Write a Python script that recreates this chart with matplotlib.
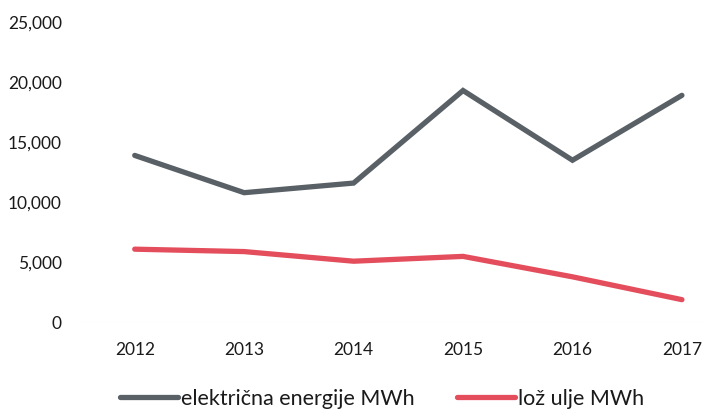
import matplotlib
matplotlib.use("Agg")
from matplotlib import pyplot as plt
from matplotlib.ticker import FuncFormatter

years = ['2012', '2013', '2014', '2015', '2016', '2017']
struja = [13900, 10800, 11600, 19300, 13500, 18900]
lozulje = [6100, 5900, 5100, 5500, 3800, 1900]
yticks = [0, 5000, 10000, 15000, 20000, 25000]

plt.rcParams['font.family'] = ['Lato', 'DejaVu Sans']

fig = plt.figure(figsize=(7.06, 4.12), dpi=100)
ax = fig.add_axes([80 / 706, 89.5 / 412, 626 / 706, 300.5 / 412])

x = range(len(years))
ax.plot(x, struja, color='#596066', lw=3.8, solid_capstyle='round',
        solid_joinstyle='miter', label='električna energije MWh')
ax.plot(x, lozulje, color='#e34d5c', lw=3.8, solid_capstyle='round',
        solid_joinstyle='miter', label='lož ulje MWh')

# faint baseline at zero
ax.axhline(0, color='#e4e4e4', lw=0.8, zorder=0)

ax.set_xlim(-0.5, 5.22)
ax.set_ylim(0, 25000)
ax.set_xticks(list(x))
ax.set_xticklabels(years)
ax.set_yticks(yticks)
ax.yaxis.set_major_formatter(FuncFormatter(lambda v, p: f'{int(v):,}'))
ax.tick_params(axis='both', length=0, labelsize=12.5, colors='#1a1a1a')
ax.tick_params(axis='y', pad=13)
ax.tick_params(axis='x', pad=14)
for s in ax.spines.values():
    s.set_visible(False)

fig.legend(loc='center', bbox_to_anchor=(382 / 706, 1 - 399 / 412), ncol=2,
           frameon=False, fontsize=15.5, handlelength=2.7, handletextpad=0.1,
           columnspacing=2.0, labelcolor='#1a1a1a', borderpad=0)

fig.savefig('out.png', dpi=100, facecolor='white')
